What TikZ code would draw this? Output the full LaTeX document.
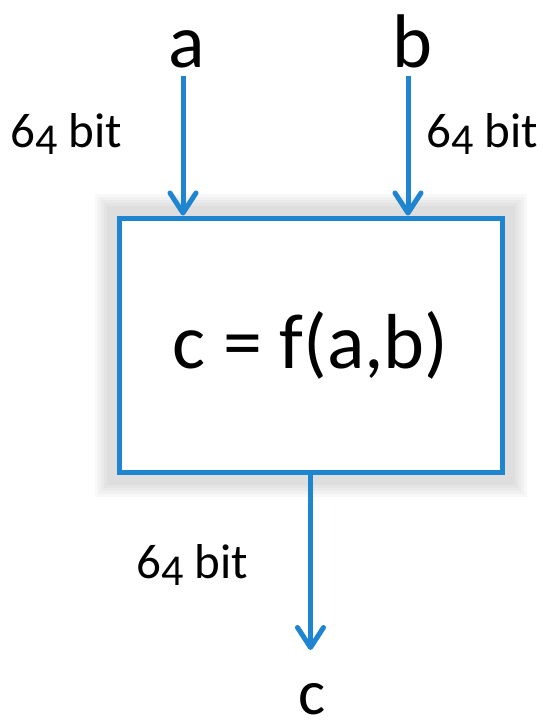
\documentclass[tikz,border=0pt]{standalone}
\usepackage{fontspec}
\setmainfont{Carlito}
\usetikzlibrary{
  arrows.meta,
  positioning,
  backgrounds
}
\definecolor{wirecolor}{RGB}{31, 133, 208}
\definecolor{labelcolor}{RGB}{0, 0, 0}
% old-style figure four, as the font shows it
\newcommand{\bitwidth}{6\raisebox{-0.15em}{\scalebox{0.9}{4}} bit}
\tikzset{
funcblock/.style={
  draw=wirecolor,
  line width=2.5pt,
  fill=white,
  minimum width=191.5pt,
  minimum height=127pt,
  inner sep=0pt,
  font=\fontsize{39}{46}\selectfont,
  text=labelcolor
},
varlabel/.style={
  font=\fontsize{38}{44}\selectfont,
  text=labelcolor,
  anchor=base,
  inner sep=0pt
},
outlabel/.style={
  font=\fontsize{32}{38}\selectfont,
  text=labelcolor,
  anchor=base,
  inner sep=0pt
},
widthlabel/.style={
  font=\fontsize{24.5}{29}\selectfont,
  text=labelcolor,
  anchor=base west,
  inner sep=0pt
},
glow/.style={
  draw=black,
  opacity=0.028
},
arrow/.style={
  -{Straight Barb[length=10pt,width=13pt,line cap=round,line join=round]},
  line width=2.5pt,
  draw=wirecolor
}
}

\begin{document}
\begin{tikzpicture}[x=0.5pt, y=-0.5pt]
        \useasboundingbox (0,0) rectangle (542,724);

        % function block
        \node[funcblock] (fbox) at (310.5,345) {c = f(a,b)};
        \begin{scope}[on background layer]
          \foreach \lw in {18,15,12,9,6}
            \draw[glow, line width=\lw pt]
              ([shift={(-4,-4)}]fbox.north west) rectangle ([shift={(4,4)}]fbox.south east);
        \end{scope}

        % inputs
        \node[varlabel] (a) at (187,67) {a};
        \node[varlabel] (b) at (412,67) {b};
        \draw[arrow] ([xshift=-2pt,yshift=-4pt]a.south) -- ([xshift=-2pt]a.south |- fbox.north);
        \draw[arrow] ([xshift=-2pt,yshift=-4pt]b.south) -- ([xshift=-2pt]b.south |- fbox.north);
        \node[widthlabel] (wa) at (10,147) {\bitwidth};
        \node[widthlabel] (wb) at (426,147) {\bitwidth};

        % output
        \node[outlabel] (c) at (312,714) {c};
        \coordinate (cend) at (310.5,650);
        \draw[arrow] (fbox.south) -- (cend);
        \node[widthlabel] (wc) at (136,578) {\bitwidth};
      \end{tikzpicture}
\end{document}
